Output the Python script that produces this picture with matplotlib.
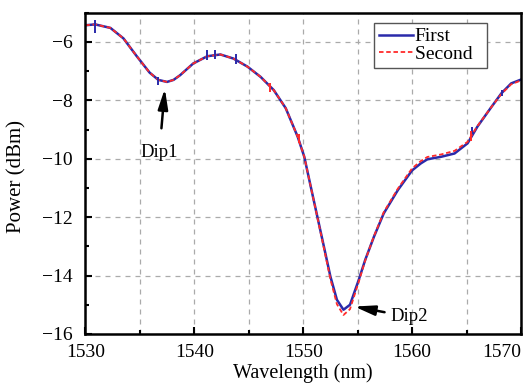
import matplotlib.pyplot as plt
from matplotlib.ticker import MultipleLocator

# Wavelength samples (nm) and measured power (dBm) for the two scans
wavelength = [1530.0, 1530.9, 1532.3, 1533.5, 1534.7, 1535.9, 1536.7, 1537.5, 1538.1, 1538.7,
              1539.9, 1541.2, 1542.4, 1543.6, 1544.9, 1546.1, 1547.3, 1548.4, 1549.5, 1550.1,
              1550.7, 1551.3, 1551.9, 1552.5, 1553.1, 1553.7, 1554.3, 1555.1, 1555.7, 1556.5,
              1557.4, 1558.7, 1560.0, 1560.8, 1561.4, 1562.7, 1563.9, 1565.1, 1566.0, 1567.3,
              1568.2, 1569.1, 1570.0]
first = [-5.43, -5.40, -5.52, -5.88, -6.48, -7.05, -7.30, -7.37, -7.30, -7.14,
         -6.74, -6.49, -6.43, -6.57, -6.85, -7.20, -7.65, -8.27, -9.25, -9.93,
         -10.96, -11.98, -13.00, -14.03, -14.83, -15.17, -15.00, -14.15, -13.46, -12.67,
         -11.87, -11.07, -10.40, -10.16, -10.02, -9.93, -9.82, -9.47, -8.90, -8.22,
         -7.76, -7.42, -7.29]
second = [-5.43, -5.40, -5.52, -5.88, -6.48, -7.05, -7.30, -7.37, -7.30, -7.14,
          -6.74, -6.49, -6.43, -6.57, -6.85, -7.20, -7.65, -8.27, -9.25, -9.93,
          -10.96, -12.00, -13.05, -14.12, -14.98, -15.35, -15.15, -14.22, -13.48, -12.65,
          -11.83, -11.02, -10.33, -10.08, -9.94, -9.85, -9.73, -9.42, -8.88, -8.22,
          -7.78, -7.45, -7.32]

# short measurement glitches visible on the traces
blue_spike_x = [1530.9, 1536.7, 1541.2, 1541.9, 1543.8, 1565.5, 1568.3]
blue_spike_lo = [-5.71, -7.48, -6.63, -6.60, -6.75, -9.15, -7.85]
blue_spike_hi = [-5.26, -7.20, -6.28, -6.28, -6.40, -8.90, -7.65]
red_spike_x = [1547.0, 1549.6, 1565.4]
red_spike_lo = [-7.72, -9.45, -9.40]
red_spike_hi = [-7.42, -9.15, -9.05]

x_ticks = [1530, 1540, 1550, 1560, 1570]
x_ticklabels = ['1530', '1540', '1550', '1560', '1570']

plt.rcParams['font.family'] = ['Liberation Serif', 'DejaVu Serif']

fig, ax = plt.subplots(figsize=(5.3, 3.85), dpi=100)
fig.subplots_adjust(left=0.161, right=0.983, top=0.967, bottom=0.1325)

ax.plot(wavelength, first, color='#2a2aaa', lw=1.8, label='First')
ax.plot(wavelength, second, color='#ff2a2a', lw=1.3, ls=(0, (2.5, 1.5)), label='Second  ')
ax.vlines(blue_spike_x, blue_spike_lo, blue_spike_hi, color='#2a2aaa', lw=1.4)
ax.vlines(red_spike_x, red_spike_lo, red_spike_hi, color='#ff2a2a', lw=1.4)

ax.set_xlim(1530, 1570)
ax.set_ylim(-16, -5)
ax.set_xticks(x_ticks, x_ticklabels)
ax.xaxis.set_minor_locator(MultipleLocator(5))
ax.yaxis.set_major_locator(MultipleLocator(2))
ax.yaxis.set_minor_locator(MultipleLocator(1))
ax.grid(True, which='both', axis='x', color='#aaaaaa', ls=(0, (4, 4)), lw=0.9)
ax.grid(True, which='major', axis='y', color='#aaaaaa', ls=(0, (4, 4)), lw=0.9)
ax.tick_params(which='both', direction='in', labelsize=14, width=1.5)
ax.tick_params(which='major', length=5)
ax.tick_params(which='minor', length=3)
ax.tick_params(axis='x', pad=7)
ax.tick_params(axis='y', pad=9)
for s in ax.spines.values():
    s.set_linewidth(1.8)

ax.set_xlabel('Wavelength (nm)', fontsize=14.5)
ax.set_ylabel('Power (dBm)', fontsize=15)
ax.xaxis.set_label_coords(0.5, -0.09)
ax.yaxis.set_label_coords(-0.134, 0.49)

ax.annotate('Dip1', xy=(1537.3, -7.6), xytext=(1536.8, -9.77), fontsize=13.5,
            ha='center', va='center',
            arrowprops=dict(arrowstyle='-|>,head_length=0.9,head_width=0.22',
                            color='black', lw=1.8, shrinkB=0, shrinkA=9))
ax.annotate('Dip2', xy=(1554.7, -15.06), xytext=(1559.7, -15.41), fontsize=13.5,
            ha='center', va='center',
            arrowprops=dict(arrowstyle='-|>,head_length=0.9,head_width=0.22',
                            color='black', lw=1.8, shrinkB=0, shrinkA=2))

leg = ax.legend(loc='upper right', bbox_to_anchor=(0.922, 0.968), borderaxespad=0,
                fontsize=14, handlelength=1.75, handletextpad=0.1, borderpad=0.25,
                labelspacing=0.0, fancybox=False, framealpha=1)
leg.get_frame().set_edgecolor('#555555')
leg.get_frame().set_linewidth(1.0)

fig.canvas.draw()
for tick in ax.xaxis.get_major_ticks():
    if tick.get_loc() == x_ticks[-1]:
        tick.label1.set_horizontalalignment('right')
        tick.label1.set_x(x_ticks[-1] + 0.1)

fig.savefig('out.png', dpi=100)
